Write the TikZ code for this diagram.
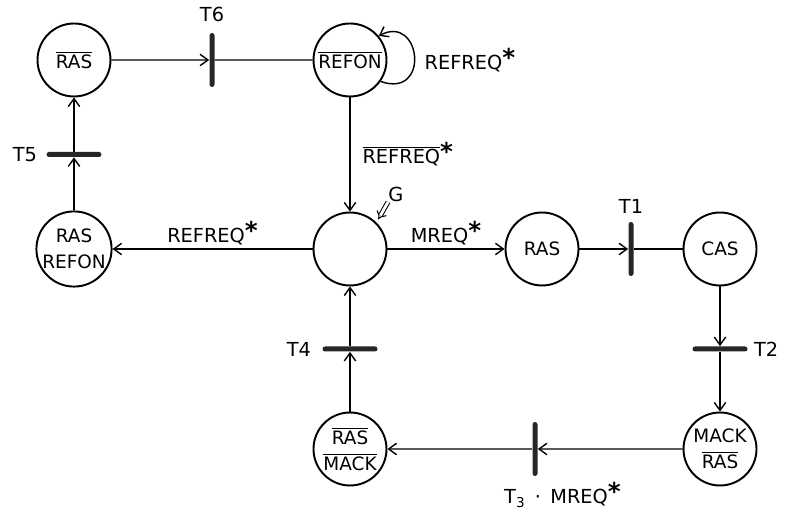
\documentclass[tikz,border=0pt]{standalone}
\usepackage{fontspec}
\setmainfont{DejaVu Sans}
\usetikzlibrary{arrows.meta, positioning, calc}
\newcommand{\nt}[1]{$\overline{\mbox{#1}}$}
\newcommand{\req}{\raisebox{0.3ex}{\fontsize{14}{14}\selectfont\bfseries *}}

\begin{document}
\begin{tikzpicture}[
    node distance=3.78cm and 5.52cm,
    place/.style={
      circle, draw, on grid, minimum size=1.46cm, inner sep=0pt,
      align=center, font=\fontsize{10.5}{15}\selectfont, line width=1.1pt
    },
    vbar/.style={
      rectangle, fill=black!85, rounded corners=0.05cm, inner sep=0pt,
      minimum width=0.1cm, minimum height=1.08cm
    },
    hbar/.style={vbar, minimum width=1.1cm, minimum height=0.1cm},
    arrow/.style={-{Straight Barb[length=4.5pt, width=6.5pt]}, line width=0.8pt},
    link/.style={line width=0.8pt},
    garrow/.style={double, double distance=1.6pt, line width=0.6pt, -{Implies}, shorten >=2pt},
    lbl/.style={font=\fontsize{11}{13}\selectfont},
]
  \useasboundingbox (0,0) rectangle (15.7,-10.26);

  \node[place] (rasbar) at (1.48,-1.2) {\nt{RAS}};
  \node[place, right=5.52cm of rasbar] (refon) {\nt{REFON}};
  \node[place, below=3.78cm of rasbar] (rasrefon) {RAS\\REFON};
  \node[place, below=3.78cm of refon] (g) {};
  \node[place, right=3.84cm of g] (ras) {RAS};
  \node[place, right=3.56cm of ras] (cas) {CAS};
  \node[place, below=4cm of cas] (mackras) {MACK\\\nt{RAS}};
  \node[place, below=4cm of g] (rasmack) {\nt{RAS}\\\nt{MACK}};

  \node[vbar] (t6) at ($(rasbar)!0.5!(refon)$) {};
  \node[hbar] (t5) at ($(rasrefon)!0.5!(rasbar)$) {};
  \node[vbar] (t1) at ($(ras)!0.5!(cas)$) {};
  \node[hbar] (t2) at ($(cas)!0.5!(mackras)$) {};
  \node[vbar] (t3) at ($(mackras)!0.5!(rasmack)$) {};
  \node[hbar] (t4) at ($(rasmack)!0.5!(g)$) {};

  \node[lbl, above=0.1cm of t6] (lt6) {T6};
  \node[lbl, left=0.06cm of t5] (lt5) {T5};
  \node[lbl, above=0.04cm of t1] (lt1) {T1};
  \node[lbl, right=0cm of t2] (lt2) {T2};
  \node[lbl, below=0cm of t3, xshift=0.55cm] (lt3) {T\textsubscript{3}\,~\textperiodcentered~\,MREQ\req};
  \node[lbl, left=0.1cm of t4] (lt4) {T4};
  \node[lbl, anchor=west] (lloop) at ([xshift=0.62cm]refon.east) {REFREQ\req};
  \node[lbl, inner sep=0pt, above right=0.41cm and 0.23cm of g.45] (lg) {G};

  \draw[arrow] (rasbar) -- (t6);
  \draw[link] (t6) -- (refon);
  \draw[arrow] (refon.-35) .. controls +(1.0,-0.35) and +(0.85,0.45) .. (refon.40);
  \draw[arrow] (refon) -- node[lbl, right, xshift=0.12cm] (lnref) {\nt{REFREQ}\req} (g);
  \draw[arrow] (g) -- node[lbl, above, inner sep=2pt] (lleft) {REFREQ\req} (rasrefon);
  \draw[arrow] (rasrefon) -- (t5);
  \draw[arrow] (t5) -- (rasbar);
  \draw[arrow] (g) -- node[lbl, above, inner sep=2pt] (lmreq) {MREQ\req} (ras);
  \draw[arrow] (ras) -- (t1);
  \draw[link] (t1) -- (cas);
  \draw[arrow] (cas) -- (t2);
  \draw[arrow] (t2) -- (mackras);
  \draw[arrow] (mackras) -- (t3);
  \draw[arrow] (t3) -- (rasmack);
  \draw[arrow] (rasmack) -- (t4);
  \draw[arrow] (t4) -- (g);
  \draw[garrow] (lg.south west) -- (g.45);
\end{tikzpicture}
\end{document}
